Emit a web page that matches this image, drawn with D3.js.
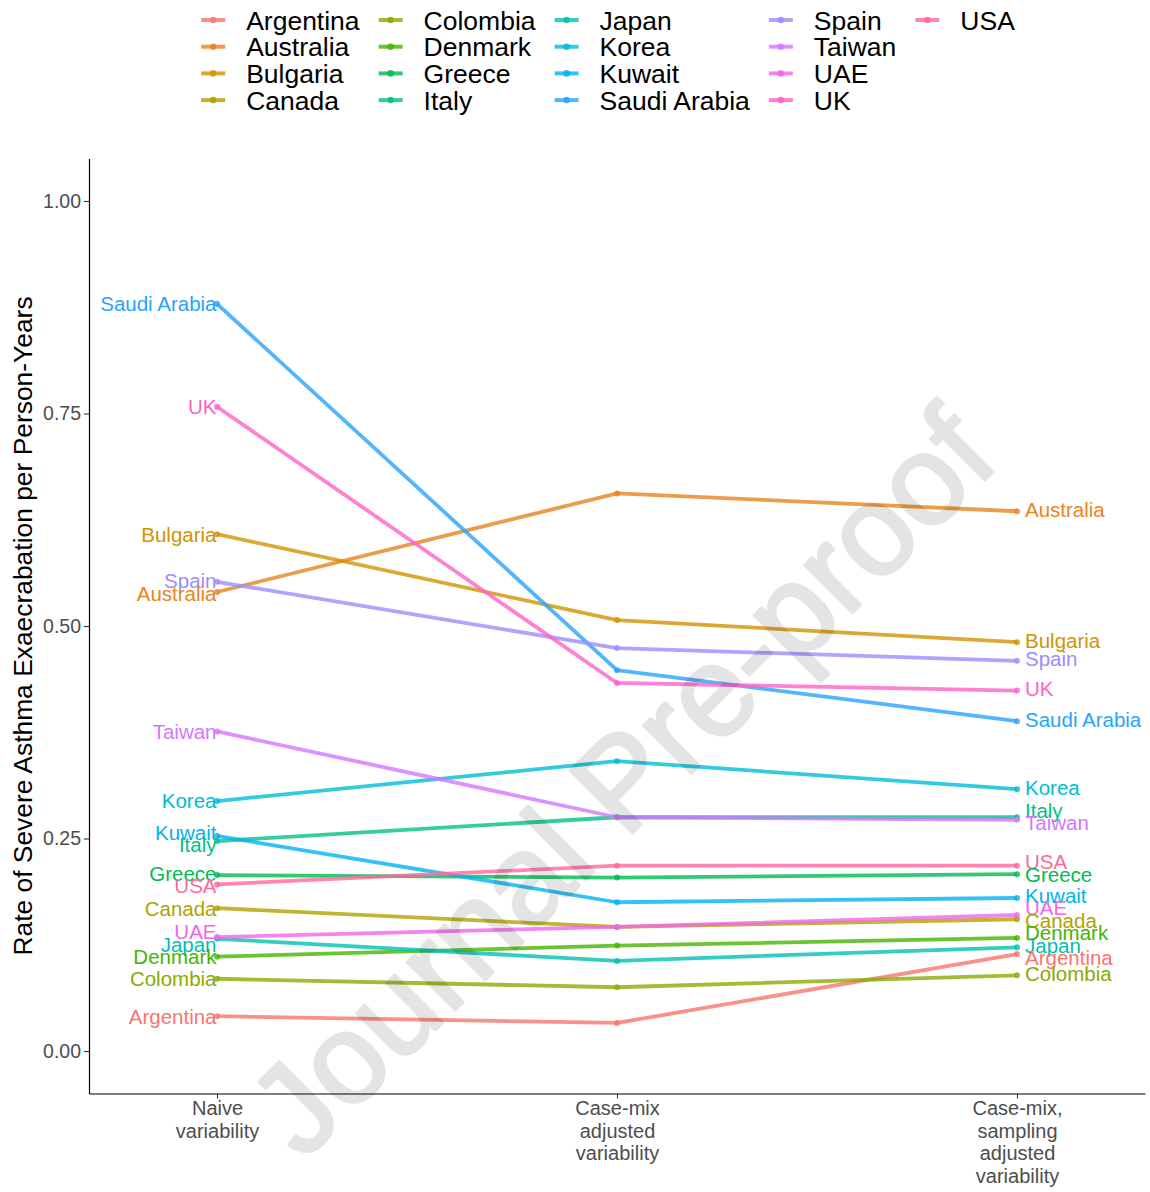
<!DOCTYPE html>
<html>
<head>
<meta charset="utf-8">
<script src="https://cdn.jsdelivr.net/npm/d3@7"></script>
<style>
  body { margin: 0; background: #fff; }
  svg { display: block; }
  text { font-family: "Liberation Sans", Arial, Helvetica, sans-serif; }
</style>
</head>
<body>
<svg id="chart" width="1150" height="1192"></svg>
<script>
// Severe asthma exacerbation rates per country, under three variability models
const countries = ["Argentina", "Australia", "Bulgaria", "Canada", "Colombia", "Denmark",
  "Greece", "Italy", "Japan", "Korea", "Kuwait", "Saudi Arabia", "Spain", "Taiwan",
  "UAE", "UK", "USA"];
const naive           = [0.041, 0.540, 0.608, 0.168, 0.085, 0.111, 0.207, 0.247, 0.132, 0.294, 0.253, 0.879, 0.552, 0.376, 0.134, 0.758, 0.196];
const caseMix         = [0.033, 0.656, 0.507, 0.146, 0.075, 0.124, 0.204, 0.275, 0.106, 0.341, 0.175, 0.448, 0.474, 0.275, 0.146, 0.433, 0.218];
const caseMixSampling = [0.114, 0.635, 0.481, 0.155, 0.089, 0.133, 0.208, 0.275, 0.122, 0.308, 0.180, 0.388, 0.459, 0.272, 0.160, 0.424, 0.218];
const stages = ["naive", "caseMix", "caseMixSampling"];
const stageLabels = [
  ["Naive", "variability"],
  ["Case-mix", "adjusted", "variability"],
  ["Case-mix,", "sampling", "adjusted", "variability"]
];
const yTicks = [0, 0.25, 0.5, 0.75, 1];
const yTitle = "Rate of Severe Asthma Exaecrabation per Person-Years";
const watermark = "Journal Pre-proof";

// Hue palette in polar LUV (l = 65, c = 100), as in ggplot2's default discrete scale
function hcl2hex(h, c, l) {
  const hr = h * Math.PI / 180;
  const U = c * Math.cos(hr), V = c * Math.sin(hr);
  const Y = l > 7.999592 ? Math.pow((l + 16) / 116, 3) : l / 903.3;
  const u = U / (13 * l) + 0.1978398, v = V / (13 * l) + 0.4683363;
  const X = 9 * Y * u / (4 * v);
  const Z = -X / 3 - 5 * Y + 3 * Y / v;
  const g = t => { t = t > 0.00304 ? 1.055 * Math.pow(t, 1 / 2.4) - 0.055 : 12.92 * t; return Math.round(255 * Math.max(0, Math.min(1, t))); };
  return d3.rgb(g(3.240479 * X - 1.537150 * Y - 0.498535 * Z),
                g(-0.969256 * X + 1.875992 * Y + 0.041556 * Z),
                g(0.055648 * X - 0.204043 * Y + 1.057311 * Z)).formatHex();
}
const palette = countries.map((_, i) => hcl2hex(15 + 360 * i / countries.length, 100, 65));
const color = d3.scaleOrdinal().domain(countries).range(palette);

const rows = countries.map((name, i) => ({
  name,
  values: [naive[i], caseMix[i], caseMixSampling[i]]
}));

const svg = d3.select("#chart");
const panel = { left: 89, right: 1145, top: 158.5, bottom: 1093.5 };

const x = d3.scalePoint().domain(stages).range([panel.left, panel.right]).padding(0.32);
const y = d3.scaleLinear().domain([-0.05, 1.05]).range([panel.bottom, panel.top]);

// Axes (classic theme: axis lines, no grid)
const yAxis = svg.append("g")
  .attr("transform", `translate(${panel.left},0)`)
  .call(d3.axisLeft(y).tickValues(yTicks).tickFormat(d3.format(".2f")).tickSize(5).tickSizeOuter(0).tickPadding(3));
yAxis.select(".domain").attr("stroke", "#000").attr("stroke-width", 1.2);
yAxis.selectAll(".tick line").attr("stroke", "#333").attr("stroke-width", 1.1);
yAxis.selectAll(".tick text").attr("fill", "#4d4d4d").style("font-size", "19.5px")
  .style("font-family", "'Liberation Sans', Arial, sans-serif");

const xAxis = svg.append("g")
  .attr("transform", `translate(0,${panel.bottom})`)
  .call(d3.axisBottom(x).tickSize(5).tickSizeOuter(0).tickFormat(""));
xAxis.select(".domain").attr("stroke", "#000").attr("stroke-width", 1.2);
xAxis.selectAll(".tick line").attr("stroke", "#333").attr("stroke-width", 1.1);
xAxis.selectAll(".tick").each(function (d, i) {
  const t = d3.select(this).append("text")
    .attr("fill", "#4d4d4d").attr("text-anchor", "middle")
    .style("font-size", "20px");
  stageLabels[i].forEach((line, k) => {
    t.append("tspan").attr("x", 0).attr("y", 21.5 + k * 22.6).text(line);
  });
});

// Y axis title
svg.append("text")
  .attr("transform", `translate(32,626) rotate(-90)`)
  .attr("text-anchor", "middle")
  .attr("fill", "#000")
  .style("font-size", "26.4px")
  .text(yTitle);

// Lines and points
const line = d3.line().x((d, i) => x(stages[i])).y(d => y(d));
const series = svg.append("g");
rows.forEach(r => {
  series.append("path")
    .attr("d", line(r.values))
    .attr("fill", "none")
    .attr("stroke", color(r.name))
    .attr("stroke-opacity", 0.8)
    .attr("stroke-width", 3.8)
    .attr("stroke-linejoin", "round");
  series.selectAll(null).data(r.values).enter().append("circle")
    .attr("cx", (d, i) => x(stages[i]))
    .attr("cy", d => y(d))
    .attr("r", 3)
    .attr("fill", color(r.name))
    .attr("fill-opacity", 0.8);
});

// End labels, spread vertically so neighbours do not collide
function spread(items, gap) {
  for (let k = 0; k < 300; k++) {
    items.sort((a, b) => a.y - b.y);
    for (let i = 1; i < items.length; i++) {
      const d = items[i].y - items[i - 1].y;
      if (d < gap) {
        const s = (gap - d) / 2;
        items[i - 1].y -= s;
        items[i].y += s;
      }
    }
  }
  return items;
}
const leftLabels = spread(rows.map(r => ({ name: r.name, y: y(r.values[0]) })), 12.5);
const rightLabels = spread(rows.map(r => ({ name: r.name, y: y(r.values[2]) })), 12.5);

const labelG = svg.append("g").style("font-size", "20.5px");
labelG.selectAll("text.left").data(leftLabels).enter().append("text")
  .attr("class", "left")
  .attr("x", x(stages[0]) - 0.5)
  .attr("y", d => d.y)
  .attr("dy", "0.36em")
  .attr("text-anchor", "end")
  .attr("fill", d => color(d.name))
  .text(d => d.name);
labelG.selectAll("text.right").data(rightLabels).enter().append("text")
  .attr("class", "right")
  .attr("x", x(stages[2]) + 8)
  .attr("y", d => d.y - 2)
  .attr("dy", "0.36em")
  .attr("text-anchor", "start")
  .attr("fill", d => color(d.name))
  .text(d => d.name);

// Legend: 4 rows, filled column by column
const legend = svg.append("g").style("font-size", "26.5px");
const nRow = 4, rowStep = 26.7, rowTop = 20;
const nCol = Math.ceil(countries.length / nRow);
const keyHalf = 12, textGap = 33, colGap = 31;
let colX = 0;
const colEnds = [];
for (let c = 0; c < nCol; c++) {
  let maxW = 0;
  for (let r = 0; r < nRow; r++) {
    const idx = c * nRow + r;
    if (idx >= countries.length) break;
    const g = legend.append("g").attr("transform", `translate(${colX},${rowTop + r * rowStep})`);
    g.append("line").attr("x1", -keyHalf).attr("x2", keyHalf)
      .attr("stroke", color(countries[idx])).attr("stroke-opacity", 0.8).attr("stroke-width", 4);
    g.append("circle").attr("r", 3.3).attr("fill", color(countries[idx])).attr("fill-opacity", 0.85);
    const t = g.append("text").attr("x", textGap).attr("dy", "0.36em").attr("fill", "#000").text(countries[idx]);
    maxW = Math.max(maxW, t.node().getComputedTextLength());
  }
  colEnds.push(colX + textGap + maxW);
  colX += textGap + maxW + colGap;
}
const legendWidth = colEnds[colEnds.length - 1] + keyHalf;
legend.attr("transform", `translate(${608 - legendWidth / 2 + keyHalf},0)`);

// Watermark across the panel (group opacity keeps fill and outline one flat tone)
svg.append("g")
  .attr("opacity", 0.1)
  .append("text")
  .attr("transform", "translate(620,780) rotate(-45)")
  .attr("text-anchor", "middle")
  .attr("dy", "0.36em")
  .attr("fill", "#000")
  .attr("stroke", "#000")
  .attr("stroke-width", 3)
  .attr("stroke-linejoin", "round")
  .style("font-size", "128px")
  .text(watermark);
</script>
</body>
</html>
